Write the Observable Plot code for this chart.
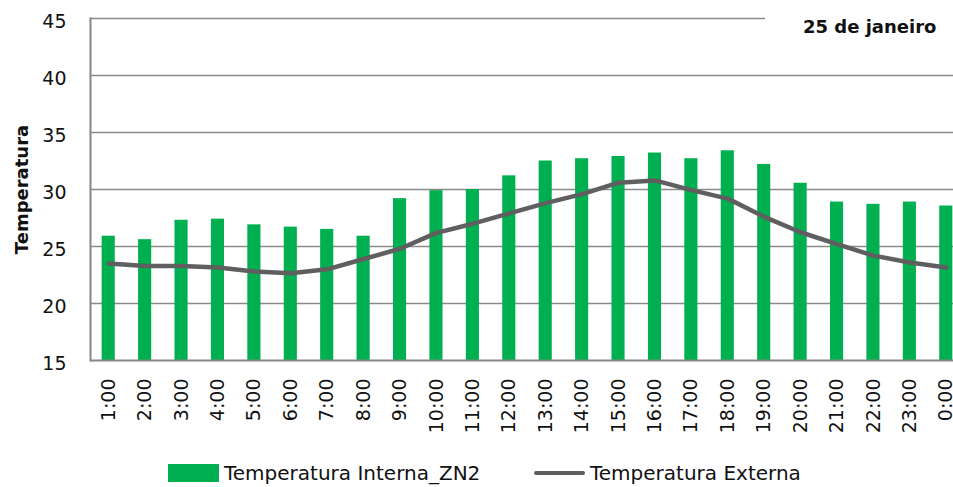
<!DOCTYPE html>
<html>
<head>
<meta charset="utf-8">
<script src="https://cdn.jsdelivr.net/npm/d3@7"></script>
<script src="https://cdn.jsdelivr.net/npm/@observablehq/plot@0.6"></script>
<style>
  html, body { margin: 0; padding: 0; background: #fff; overflow: hidden; }
  #wrap { position: relative; width: 953px; height: 487px; font-family: "DejaVu Sans", sans-serif; }
  #title { position: absolute; left: 765px; top: 0px; width: 188px; height: 50px; background: #fff;
           font: bold 18px "DejaVu Sans", sans-serif; color: #111; box-sizing: border-box; padding: 16px 0 0 38px; }
  #legend { position: absolute; left: 0; top: 462px; width: 953px; height: 24px; font: 20px "DejaVu Sans", sans-serif; color: #111; }
  .sw { position: absolute; }
  .lt { position: absolute; top: 0px; white-space: nowrap; line-height: 22px; }
</style>
</head>
<body>
<div id="wrap">
  <div id="chart"></div>
  <div id="title">25 de janeiro</div>
  <div id="legend">
    <div class="sw" style="left:168px; top:2px; width:51px; height:18px; background:#00b050;"></div>
    <div class="lt" style="left:224px;">Temperatura Interna_ZN2</div>
    <div class="sw" style="left:534px; top:9px; width:51px; height:4px; background:#5f5f5f; border-radius:2px;"></div>
    <div class="lt" style="left:590px;">Temperatura Externa</div>
  </div>
</div>
<script>
const hours = ["1:00","2:00","3:00","4:00","5:00","6:00","7:00","8:00","9:00","10:00","11:00","12:00",
               "13:00","14:00","15:00","16:00","17:00","18:00","19:00","20:00","21:00","22:00","23:00","0:00"];
const tempInterna = [25.9, 25.6, 27.3, 27.4, 26.9, 26.7, 26.5, 25.9, 29.2, 29.9, 30.0, 31.2,
                     32.5, 32.7, 32.9, 33.2, 32.7, 33.4, 32.2, 30.55, 28.9, 28.7, 28.9, 28.55];
const tempExterna = [23.5, 23.3, 23.3, 23.15, 22.8, 22.65, 23.0, 23.9, 24.8, 26.2, 27.0, 27.9,
                     28.8, 29.6, 30.6, 30.8, 29.95, 29.2, 27.6, 26.25, 25.2, 24.2, 23.6, 23.15];
const yTicks = [15, 20, 25, 30, 35, 40, 45];
const yLabel = "Temperatura";

const data = hours.map((h, i) => ({hour: h, interna: tempInterna[i], externa: tempExterna[i]}));

const chart = Plot.plot({
  width: 953,
  height: 445,
  marginTop: 18,
  marginBottom: 85,
  marginLeft: 90,
  marginRight: 0,
  style: {fontFamily: "DejaVu Sans, sans-serif", fontSize: "19px", color: "#111", overflow: "hidden"},
  x: {domain: hours, range: [90, 964], paddingInner: 0.64, paddingOuter: 0.32, round: false},
  y: {domain: [15, 45], ticks: yTicks},
  marks: [
    Plot.gridY(yTicks.slice(1), {stroke: "#8a8a8a", strokeOpacity: 1, strokeWidth: 1.5}),
    Plot.barY(data, {x: "hour", y1: 15, y2: "interna", fill: "#00b050"}),
    Plot.line(data, {x: "hour", y: "externa", stroke: "#5f5f5f", strokeWidth: 4.5, strokeLinejoin: "round", strokeLinecap: "round"}),
    Plot.ruleY([15], {stroke: "#868686", strokeWidth: 2}),
    Plot.frame({anchor: "left", stroke: "#868686", strokeWidth: 2}),
    Plot.axisY({ticks: yTicks, tickSize: 0, tickPadding: 24, label: null, dy: 3, fontSize: 19}),
    Plot.axisX({tickSize: 0, tickPadding: 18, tickRotate: -90, label: null, fontSize: 19}),
    Plot.text([yLabel], {frameAnchor: "left", textAnchor: "middle", lineAnchor: "middle", rotate: -90, dx: -68, fontWeight: "bold", fontSize: 18, fill: "#111"})
  ]
});
document.getElementById("chart").appendChild(chart);
</script>
</body>
</html>
